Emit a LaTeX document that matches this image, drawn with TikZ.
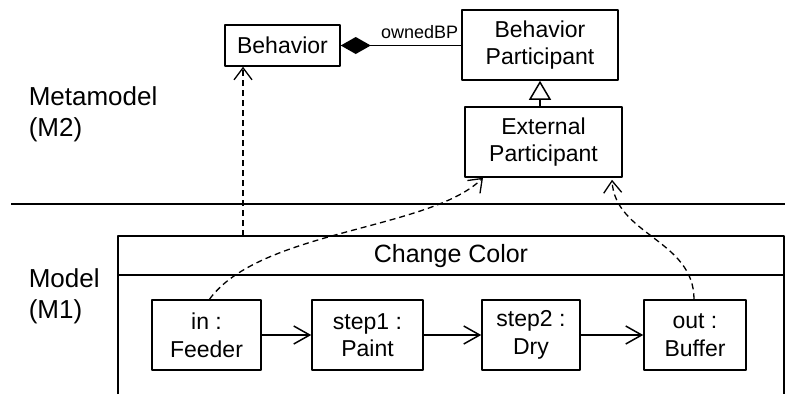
\documentclass[tikz,border=0pt]{standalone}
\usepackage{fontspec}
\setmainfont{Liberation Sans}
\usetikzlibrary{arrows.meta}
\newcommand{\boxfont}{\fontsize{23}{27.6}\selectfont}
\newcommand{\levelfont}{\fontsize{26}{31}\selectfont}
\begin{document}
\begin{tikzpicture}[x=1pt,y=-1pt,line join=round,line width=1.5pt,
    umlbox/.style={draw,inner sep=0pt,align=center,font=\boxfont},
    level/.style={anchor=west,align=left,inner sep=0pt,font=\levelfont},
    dep/.style={dash pattern=on 6pt off 4pt,line width=1.3pt,-{Straight Barb[length=12pt,width=18pt]}},
    flow/.style={-{Straight Barb[length=16pt,width=18pt]}}]
    \useasboundingbox (0,0) rectangle (785,394);
    % levels
    \draw (11,204)--(785,204);
    \node[level] (m2) at (28,114) {Metamodel\\(M2)};
    \node[level] (m1) at (28,296) {Model\\(M1)};
    % metamodel
    \node[umlbox,minimum width=115pt,minimum height=41pt] (behavior) at (282.5,45.5) {Behavior};
    \node[umlbox,minimum width=156pt,minimum height=70pt] (bp) at (540,45) {Behavior\\Participant};
    \node[umlbox,minimum width=157pt,minimum height=70pt] (ep) at (543.5,142) {External\\Participant};
    \draw[{Diamond[length=30pt,width=17pt]}-] (behavior.east)--(behavior.east -| bp.west);
    \node[anchor=base east,inner sep=0pt,font=\fontsize{18}{20}\selectfont] (role) at (459,38) {ownedBP};
    \draw[-{Triangle[open,length=19pt,width=22pt]}] (bp.south |- ep.north)--(bp.south);
    % model
    \draw (118,394)--(118,236)--(784,236)--(784,394);
    \draw (118,275)--(784,275);
    \node[font=\fontsize{25}{30}\selectfont] (title) at (451,256) {Change Color};
    \node[umlbox,minimum width=109pt,minimum height=70pt] (in) at (206.5,335) {in :\\Feeder};
    \node[umlbox,minimum width=111pt,minimum height=70pt] (step1) at (367.5,335) {step1 :\\Paint};
    \node[umlbox,minimum width=98pt,minimum height=70pt] (step2) at (531,335) {step2 :\\Dry};
    \node[umlbox,minimum width=102pt,minimum height=70pt] (out) at (695,335) {out :\\Buffer};
    \draw[flow] (in)--(step1);
    \draw[flow] (step1)--(step2);
    \draw[flow] (step2)--(out);
    % instance-of links
    \coordinate (frametop) at (243,236);
    \draw[dep] (frametop)--(frametop |- behavior.south);
    \draw[dep] ([xshift=3pt]in.north) .. controls (260,230) and (430,230) .. ([xshift=-60.5pt]ep.south);
    \draw[dep] ([xshift=-1pt]out.north) .. controls (694,240) and (615,235) .. ([xshift=68.5pt,yshift=-2pt]ep.south);
\end{tikzpicture}
\end{document}
